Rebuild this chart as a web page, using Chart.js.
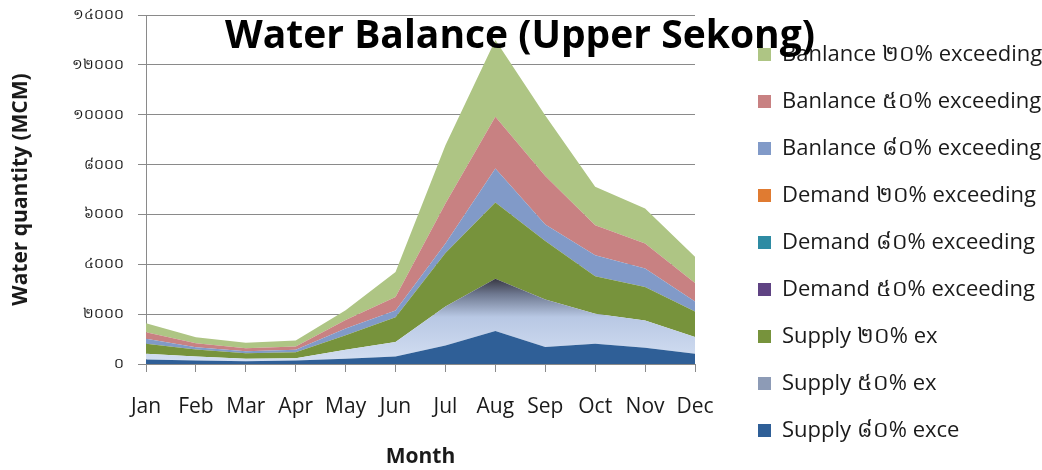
<!DOCTYPE html>
<html>
<head>
<meta charset="utf-8">
<script src="https://cdn.jsdelivr.net/npm/chart.js@4"></script>
<style>
  html, body { margin:0; padding:0; background:#fff; }
  #wrap { width:1042px; height:470px; }
</style>
</head>
<body>
<div id="wrap"><canvas id="wbChart"></canvas></div>
<script>
/* data (MCM, per month, stacked) */
var months = ['Jan','Feb','Mar','Apr','May','Jun','Jul','Aug','Sep','Oct','Nov','Dec'];
var yTickLabels = ['០','២០០០','៤០០០','៦០០០','៨០០០','១០០០០','១២០០០','១៤០០០'];

var supply80  = [180, 140, 110, 140, 210, 300,  740, 1320,  680,  810,  650, 410];
var supply50  = [230, 160, 100,  90, 360, 580, 1570, 2100, 1910, 1210, 1100, 670];
var supply20  = [400, 280, 225, 240, 580,1000, 2140, 3060, 2340, 1500, 1340,1030];
var demand50  = [0,0,0,0,0,0,0,0,0,0,0,0];
var demand80  = [0,0,0,0,0,0,0,0,0,0,0,0];
var demand20  = [0,0,0,0,0,0,0,0,0,0,0,0];
var balance80 = [200,  90,  80, 100, 270, 270,  380, 1360,  670,  840,  740, 400];
var balance50 = [260, 160, 120, 130, 350, 540, 1610, 2080, 1940, 1210, 1000, 740];
var balance20 = [360, 240, 220, 240, 390,1000, 2340, 3080, 2430, 1540, 1410,1050];

(function () {
    'use strict';

    var FONT = '"Open Sans", "Noto Sans", sans-serif';
    var GRID = '#8a8a8a';

    /* gradient for Supply 50% — dark at the top of the layer, light blue below */
    function supply50Fill(c) {
        var ch = c.chart, a = ch.chartArea;
        if (!a) return '#B9C9E5';
        var top = 0;
        for (var i = 0; i < months.length; i++) top = Math.max(top, supply80[i] + supply50[i]);
        var y = ch.scales.y;
        var g = ch.ctx.createLinearGradient(0, y.getPixelForValue(top), 0, y.getPixelForValue(0));
        g.addColorStop(0,    '#383843');
        g.addColorStop(0.18, '#6e7890');
        g.addColorStop(0.45, '#B8C8E4');
        g.addColorStop(1,    '#D4DFF2');
        return g;
    }

    function area(label, data, color, fill) {
        return {
            label: label, data: data, fill: fill,
            backgroundColor: color, borderColor: color, borderWidth: 0,
            pointRadius: 0, pointHoverRadius: 0, tension: 0
        };
    }

    var titlePlugin = {
        id: 'overTitle',
        afterDraw: function (chart) {
            var ctx = chart.ctx;
            ctx.save();
            ctx.font = 'bold 39px ' + FONT;
            ctx.fillStyle = '#000';
            ctx.textAlign = 'center';
            ctx.textBaseline = 'middle';
            ctx.fillText('Water Balance (Upper Sekong)', 520, 37);
            ctx.restore();
        }
    };

    var c = document.getElementById('wbChart').getContext('2d');
    new Chart(c, {
        type: 'line',
        data: {
            labels: months,
            datasets: [
                area('Supply ៨០% exce',        supply80,  '#2F5F97', 'origin'),
                area('Supply ៥០% ex',          supply50,  supply50Fill, '-1'),
                area('Supply ២០% ex',          supply20,  '#77933C', '-1'),
                area('Demand ៥០% exceeding',   demand50,  '#5F4383', '-1'),
                area('Demand ៨០% exceeding',   demand80,  '#2E8BA3', '-1'),
                area('Demand ២០% exceeding',   demand20,  '#E07B31', '-1'),
                area('Banlance ៨០% exceeding', balance80, '#819AC8', '-1'),
                area('Banlance ៥០% exceeding', balance50, '#C88182', '-1'),
                area('Banlance ២០% exceeding', balance20, '#AEC584', '-1')
            ]
        },
        options: {
            responsive: true, maintainAspectRatio: false, animation: false,
            devicePixelRatio: 1,
            layout: { padding: { top: 15, left: 0, right: 0, bottom: 0 } },
            plugins: {
                title: { display: false },
                tooltip: { enabled: false },
                legend: {
                    position: 'right', align: 'center', reverse: true, maxWidth: 309,
                    labels: {
                        font: { family: FONT, size: 22 }, color: '#1a1a1a',
                        boxWidth: 13, boxHeight: 13, padding: 25,
                        generateLabels: function (chart) {
                            var items = Chart.defaults.plugins.legend.labels.generateLabels(chart);
                            items.forEach(function (it) {
                                if (it.datasetIndex === 1) it.fillStyle = '#8D9BB6';
                                it.strokeStyle = it.fillStyle;
                                it.lineWidth = 0;
                            });
                            return items;
                        }
                    }
                }
            },
            scales: {
                x: {
                    grid: { display: true, drawOnChartArea: false, drawTicks: true, tickLength: 8, color: GRID },
                    border: { color: GRID },
                    ticks: { font: { family: FONT, size: 21 }, color: '#1a1a1a', padding: 22, maxRotation: 0 },
                    title: { display: true, text: 'Month', font: { family: FONT, size: 21, weight: 'bold' }, color: '#1a1a1a', padding: { top: -3, bottom: 0 } },
                    afterFit: function (s) { s.height = 106; }
                },
                y: {
                    stacked: true, min: 0, max: 14000,
                    grid: { color: GRID, tickLength: 8 },
                    border: { color: GRID },
                    ticks: {
                        stepSize: 2000, padding: 14,
                        font: { family: FONT, size: 14 }, color: '#1a1a1a',
                        callback: function (v) { return yTickLabels[Math.round(v / 2000)]; }
                    },
                    title: { display: true, text: 'Water quantity (MCM)', font: { family: FONT, size: 21, weight: 'bold' }, color: '#1a1a1a', padding: { top: 8, bottom: 0 } },
                    afterFit: function (s) { s.width = 146; s.paddingTop = 0; s.paddingBottom = 0; }
                },
                y2: {
                    type: 'linear', position: 'right', display: true,
                    grid: { display: false }, border: { display: false },
                    ticks: { display: false },
                    afterFit: function (s) { s.width = 38; }
                }
            }
        },
        plugins: [titlePlugin]
    });
})();
</script>
</body>
</html>
